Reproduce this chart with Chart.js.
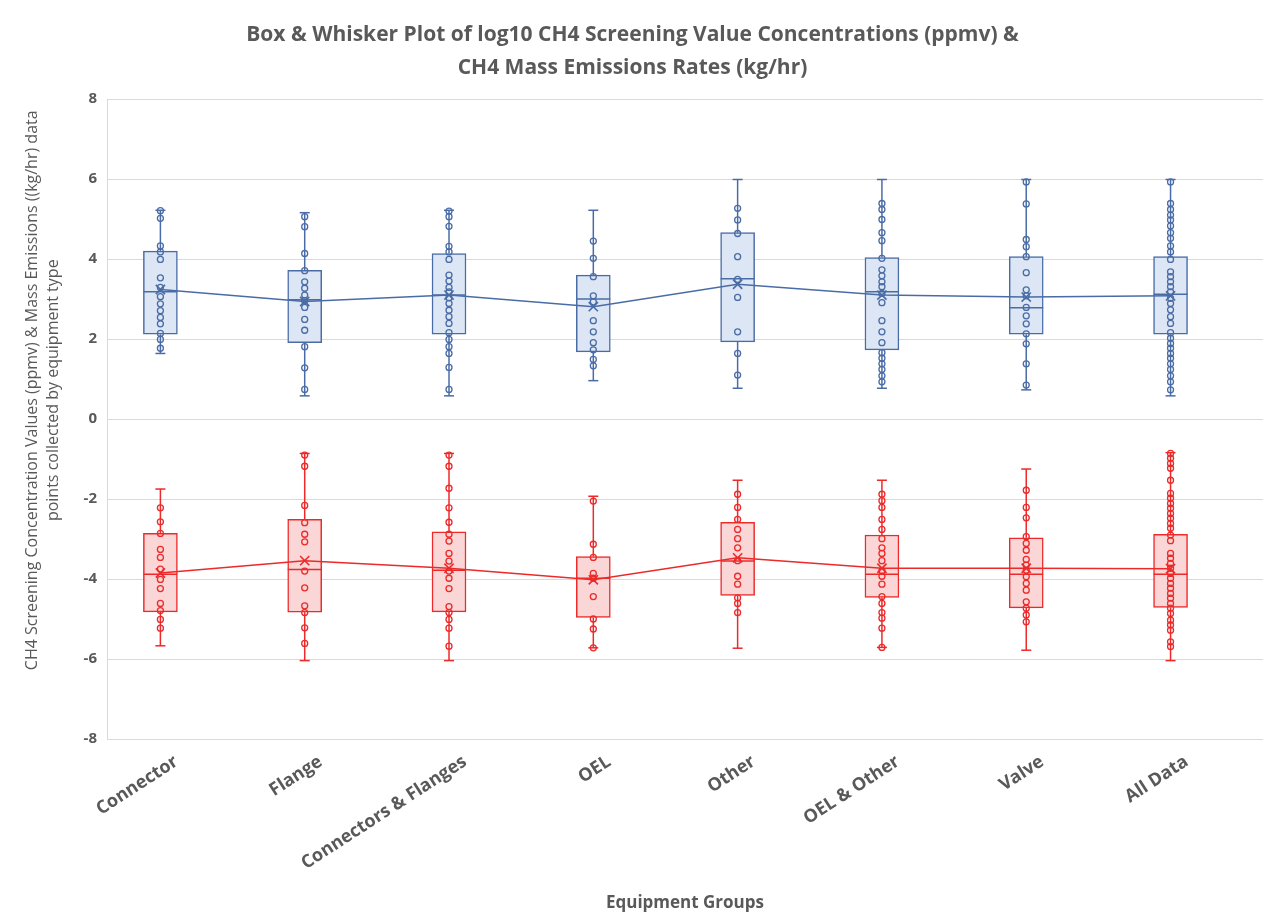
<!DOCTYPE html>
<html>
<head>
<meta charset="utf-8">
<title>Box & Whisker CH4</title>
<script src="https://cdn.jsdelivr.net/npm/chart.js@4.4.1/dist/chart.umd.min.js"></script>
<style>
  html, body { margin: 0; padding: 0; background: #fff; }
  #wrap { width: 1271px; height: 917px; position: relative; }
</style>
</head>
<body>
<div id="wrap"><canvas id="chartBox"></canvas></div>
<script>
// Grupos de equipamento
const categories = ['Connector', 'Flange', 'Connectors & Flanges', 'OEL', 'Other', 'OEL & Other', 'Valve', 'All Data'];

// log10 CH4 screening value (ppmv) - azul
const concMin    = [1.64, 0.58, 0.58, 0.96, 0.77, 0.77, 0.73, 0.58];
const concQ1     = [2.12, 1.91, 2.12, 1.68, 1.93, 1.73, 2.12, 2.12];
const concMedian = [3.18, 2.98, 3.10, 3.00, 3.51, 3.18, 2.78, 3.12];
const concQ3     = [4.20, 3.72, 4.14, 3.60, 4.66, 4.04, 4.06, 4.06];
const concMax    = [5.22, 5.16, 5.22, 5.22, 5.99, 5.99, 5.99, 5.99];
const concMean   = [3.24, 2.94, 3.10, 2.81, 3.37, 3.10, 3.05, 3.08];
const concPoints = [
    [5.21, 5.02, 4.33, 4.18, 3.99, 3.53, 3.29, 3.06, 2.88, 2.71, 2.54, 2.38, 2.14, 1.99, 1.77],
    [5.06, 4.81, 4.14, 3.71, 3.43, 3.27, 3.10, 2.96, 2.79, 2.49, 2.22, 1.81, 1.28, 0.74],
    [5.20, 5.06, 4.82, 4.32, 4.18, 3.99, 3.60, 3.45, 3.29, 3.18, 3.03, 2.89, 2.72, 2.56, 2.39, 2.16, 1.99, 1.81, 1.64, 1.29, 0.74],
    [4.45, 4.02, 3.56, 3.08, 2.93, 2.46, 2.18, 1.91, 1.73, 1.49, 1.33],
    [5.27, 4.98, 4.64, 4.06, 3.49, 3.04, 2.18, 1.64, 1.10],
    [5.39, 5.24, 4.99, 4.66, 4.46, 4.02, 3.73, 3.58, 3.43, 3.31, 3.14, 2.91, 2.46, 2.18, 1.91, 1.66, 1.52, 1.38, 1.24, 1.08, 0.93],
    [5.93, 5.38, 4.49, 4.31, 4.06, 3.66, 3.23, 3.08, 2.79, 2.58, 2.38, 2.13, 1.88, 1.38, 0.85],
    [5.93, 5.39, 5.24, 5.10, 4.98, 4.83, 4.66, 4.52, 4.33, 4.18, 3.99, 3.68, 3.56, 3.43, 3.31, 3.18, 3.02, 2.89, 2.73, 2.56, 2.39, 2.16, 2.02, 1.89, 1.77, 1.64, 1.52, 1.38, 1.24, 1.08, 0.93, 0.73]
];

// log10 CH4 mass emissions (kg/hr) - vermelho
const massMin    = [-5.67, -6.04, -6.04, -5.72, -5.73, -5.71, -5.78, -6.04];
const massQ1     = [-4.82, -4.83, -4.82, -4.96, -4.41, -4.46, -4.72, -4.71];
const massMedian = [-3.88, -3.76, -3.78, -3.98, -3.55, -3.88, -3.88, -3.88];
const massQ3     = [-2.86, -2.51, -2.82, -3.44, -2.58, -2.90, -2.97, -2.88];
const massMax    = [-1.75, -0.86, -0.86, -1.93, -1.53, -1.53, -1.25, -0.84];
const massMean   = [-3.85, -3.54, -3.73, -4.02, -3.47, -3.73, -3.73, -3.74];
const massPoints = [
    [-2.22, -2.57, -2.86, -3.26, -3.46, -3.75, -4.01, -4.24, -4.61, -4.79, -5.01, -5.23],
    [-0.90, -1.18, -2.16, -2.59, -2.88, -3.07, -3.80, -4.22, -4.67, -4.84, -5.22, -5.61],
    [-0.90, -1.18, -1.73, -2.22, -2.58, -2.88, -3.05, -3.36, -3.55, -3.80, -3.98, -4.24, -4.69, -4.84, -5.01, -5.23, -5.68],
    [-2.05, -3.13, -3.46, -3.86, -3.98, -4.44, -5.00, -5.25, -5.72],
    [-1.88, -2.21, -2.51, -2.76, -2.99, -3.22, -3.54, -3.93, -4.13, -4.47, -4.61, -4.84],
    [-1.88, -2.04, -2.21, -2.51, -2.76, -2.99, -3.22, -3.36, -3.54, -3.79, -3.93, -4.13, -4.44, -4.61, -4.84, -4.98, -5.23, -5.71],
    [-1.78, -2.21, -2.47, -2.94, -3.11, -3.28, -3.51, -3.65, -3.78, -3.94, -4.11, -4.28, -4.57, -4.73, -4.90, -5.07],
    [-0.86, -0.98, -1.11, -1.23, -1.53, -1.86, -1.98, -2.11, -2.23, -2.36, -2.48, -2.61, -2.73, -2.90, -3.04, -3.36, -3.48, -3.61, -3.73, -3.86, -3.98, -4.11, -4.23, -4.36, -4.48, -4.61, -4.73, -4.86, -5.03, -5.15, -5.28, -5.57, -5.69]
];

const yTicks = [8, 6, 4, 2, 0, -2, -4, -6, -8];
const yTitleLines = ['CH4 Screening Concentration Values (ppmv) & Mass Emissions ((kg/hr) data',
                     'points collected by equipment type'];

const BLUE = '#4a6ca6';
const BLUE_FILL = '#dce6f4';
const RED = '#ec2a2a';
const RED_FILL = '#fbd6d6';
const TEXT = '#595959';
const GRID = '#d9d9d9';
const BOX_W = 34;

function toPoints(arr) {
    const out = [];
    arr.forEach((vals, i) => vals.forEach(v => out.push({ x: i, y: v })));
    return out;
}

// Bigodes e medianas desenhados via escalas do Chart.js
const boxPlugin = {
    id: 'boxWhisker',
    beforeDatasetsDraw(chart) {
        const ctx = chart.ctx;
        const xs = chart.scales.x, ys = chart.scales.y;
        const groups = [
            { min: concMin, q1: concQ1, q3: concQ3, max: concMax, color: BLUE },
            { min: massMin, q1: massQ1, q3: massQ3, max: massMax, color: RED }
        ];
        ctx.save();
        groups.forEach(g => {
            ctx.strokeStyle = g.color;
            ctx.lineWidth = 1.5;
            categories.forEach((c, i) => {
                const px = xs.getPixelForValue(i);
                const segs = [[g.q3[i], g.max[i]], [g.q1[i], g.min[i]]];
                segs.forEach(([a, b]) => {
                    ctx.beginPath();
                    ctx.moveTo(px, ys.getPixelForValue(a));
                    ctx.lineTo(px, ys.getPixelForValue(b));
                    ctx.stroke();
                    ctx.beginPath();
                    ctx.moveTo(px - 5, ys.getPixelForValue(b));
                    ctx.lineTo(px + 5, ys.getPixelForValue(b));
                    ctx.stroke();
                });
            });
        });
        ctx.restore();
    },
    afterDatasetDraw(chart, args) {
        const ds = chart.data.datasets[args.index];
        if (!ds.medians) return;
        const ctx = chart.ctx;
        const xs = chart.scales.x, ys = chart.scales.y;
        ctx.save();
        ctx.strokeStyle = ds.borderColor;
        ctx.lineWidth = 1.5;
        ds.medians.forEach((m, i) => {
            const px = xs.getPixelForValue(i);
            const py = ys.getPixelForValue(m);
            ctx.beginPath();
            ctx.moveTo(px - BOX_W / 2, py);
            ctx.lineTo(px + BOX_W / 2, py);
            ctx.stroke();
        });
        ctx.restore();
    },
    // titulo do eixo Y (um pouco acima do centro, como no original)
    afterDraw(chart) {
        const ctx = chart.ctx;
        const area = chart.chartArea;
        const cy = area.top + (area.bottom - area.top) * 0.455;
        ctx.save();
        ctx.fillStyle = TEXT;
        ctx.font = '16px "Open Sans"';
        ctx.textAlign = 'center';
        ctx.textBaseline = 'middle';
        ctx.translate(32, cy);
        ctx.rotate(-Math.PI / 2);
        yTitleLines.forEach((t, k) => ctx.fillText(t, 0, k * 21));
        ctx.restore();
    }
};

const ctx = document.getElementById('chartBox').getContext('2d');
new Chart(ctx, {
    type: 'bar',
    data: {
        datasets: [
            {
                type: 'line', label: 'Mean ppmv',
                data: concMean.map((v, i) => ({ x: i, y: v })),
                borderColor: BLUE, borderWidth: 1.5, backgroundColor: BLUE,
                pointStyle: 'crossRot', pointRadius: 6.5, pointBorderWidth: 1.6,
                order: 0
            },
            {
                type: 'line', label: 'Mean kg/hr',
                data: massMean.map((v, i) => ({ x: i, y: v })),
                borderColor: RED, borderWidth: 1.5, backgroundColor: RED,
                pointStyle: 'crossRot', pointRadius: 6.5, pointBorderWidth: 1.6,
                order: 0
            },
            {
                type: 'scatter', label: 'ppmv',
                data: toPoints(concPoints),
                borderColor: BLUE, backgroundColor: 'rgba(255,255,255,0)',
                pointRadius: 3, borderWidth: 1.3,
                order: 1
            },
            {
                type: 'scatter', label: 'kg/hr',
                data: toPoints(massPoints),
                borderColor: RED, backgroundColor: 'rgba(255,255,255,0)',
                pointRadius: 3, borderWidth: 1.3,
                order: 1
            },
            {
                label: 'Box ppmv',
                data: concQ1.map((q, i) => ({ x: i, y: [q, concQ3[i]] })),
                backgroundColor: BLUE_FILL, borderColor: BLUE, borderWidth: 1.5,
                borderSkipped: false, barThickness: BOX_W, grouped: false,
                medians: concMedian,
                order: 2
            },
            {
                label: 'Box kg/hr',
                data: massQ1.map((q, i) => ({ x: i, y: [q, massQ3[i]] })),
                backgroundColor: RED_FILL, borderColor: RED, borderWidth: 1.5,
                borderSkipped: false, barThickness: BOX_W, grouped: false,
                medians: massMedian,
                order: 2
            }
        ]
    },
    options: {
        responsive: true,
        maintainAspectRatio: false,
        animation: false,
        layout: { padding: { left: 0, right: 6, top: 0, bottom: 4 } },
        plugins: {
            legend: { display: false },
            tooltip: { enabled: false },
            title: {
                display: true,
                text: ['Box & Whisker Plot of log10 CH4 Screening Value Concentrations (ppmv) &',
                       'CH4 Mass Emissions Rates (kg/hr)'],
                color: TEXT,
                font: { family: 'Open Sans', size: 21, weight: 'bold', lineHeight: 1.55 },
                padding: { top: 19, bottom: 15 }
            }
        },
        scales: {
            x: {
                type: 'linear',
                offset: false,
                min: -0.37,
                max: 7.64,
                grid: { display: false },
                border: { display: false },
                afterBuildTicks: s => { s.ticks = categories.map((c, i) => ({ value: i })); },
                afterFit: s => { s.height = 174; },
                ticks: {
                    color: TEXT,
                    font: { family: 'Open Sans', size: 18, weight: 'bold' },
                    minRotation: 33, maxRotation: 33,
                    padding: 4,
                    labelOffset: 16,
                    autoSkip: false,
                    callback: v => categories[v]
                },
                title: {
                    display: true,
                    text: 'Equipment Groups',
                    color: TEXT,
                    font: { family: 'Open Sans', size: 17, weight: 'bold' },
                    padding: { top: 0, bottom: 0 }
                }
            },
            y: {
                min: -8,
                max: 8,
                afterBuildTicks: s => { s.ticks = yTicks.map(v => ({ value: v })); },
                afterFit: s => { s.width = 107; },
                grid: { color: GRID, lineWidth: 1, drawTicks: false },
                border: { display: true, color: GRID },
                ticks: {
                    color: TEXT,
                    font: { family: 'Open Sans', size: 15, weight: 'bold' },
                    padding: 10
                }
            }
        }
    },
    plugins: [boxPlugin]
});
</script>
</body>
</html>
